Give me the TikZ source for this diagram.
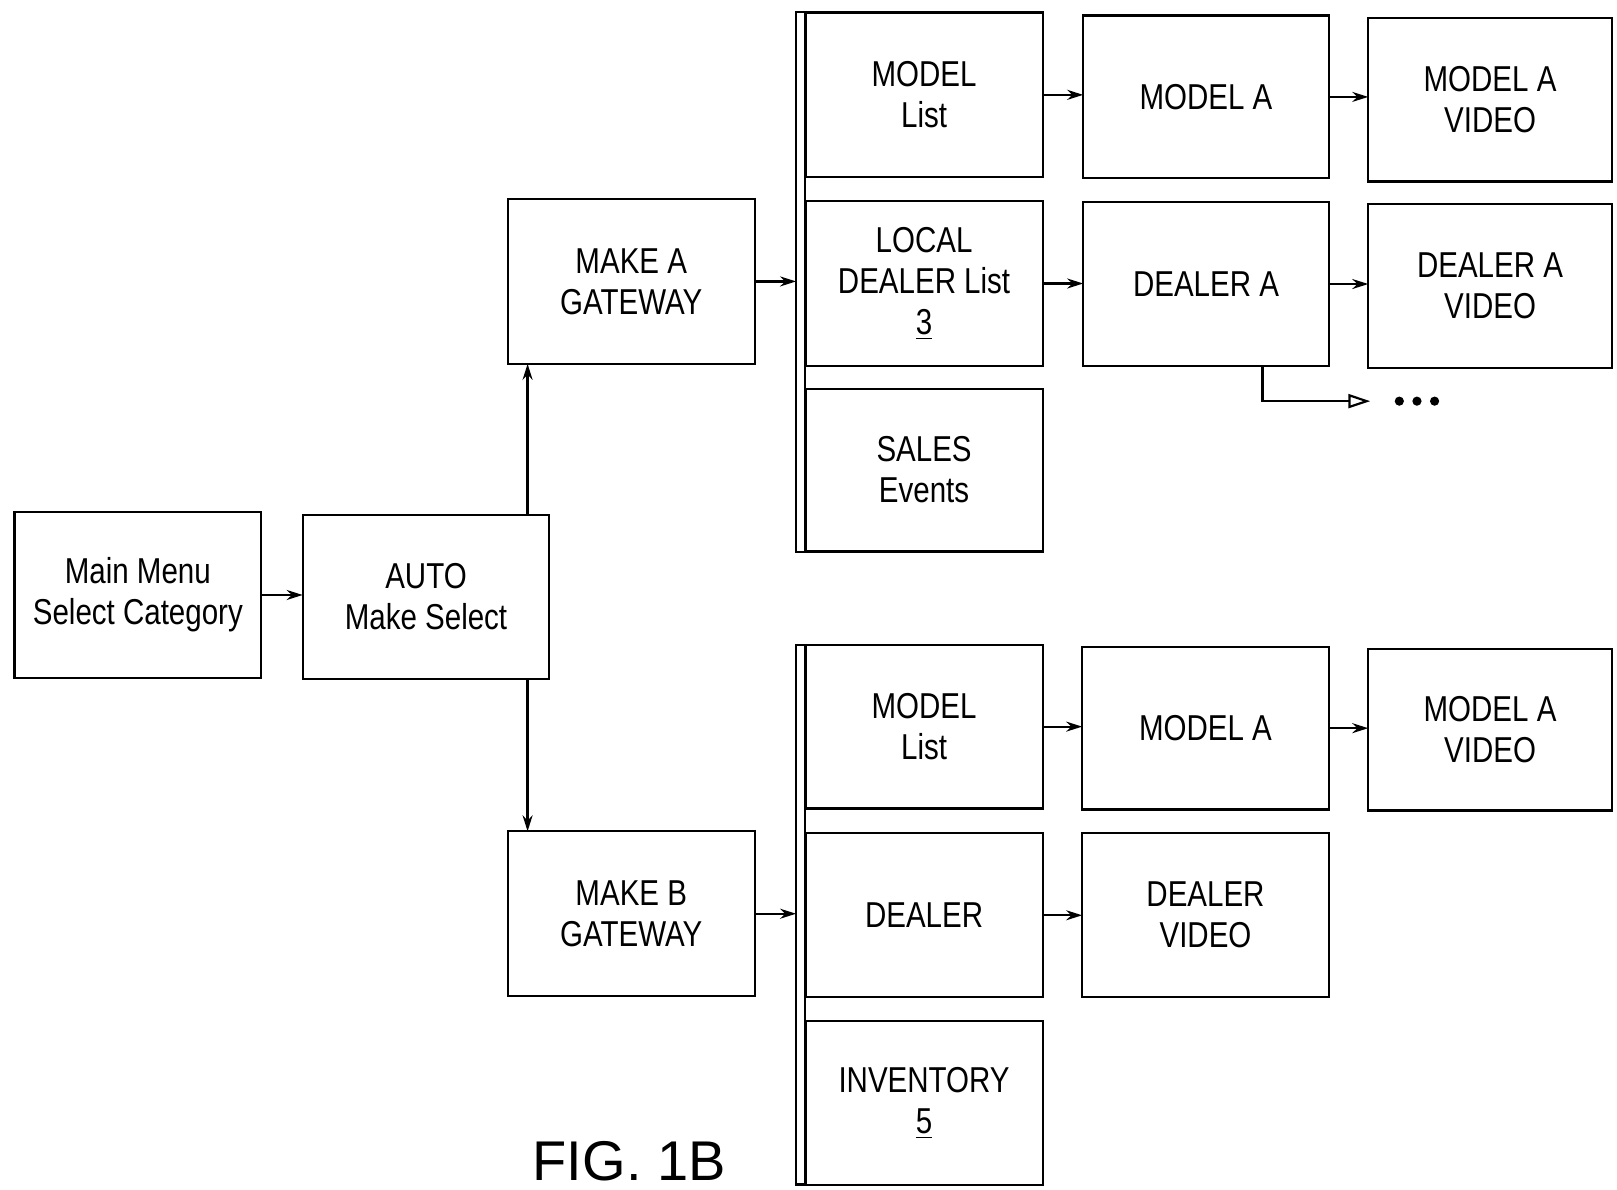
\documentclass[tikz,border=0pt]{standalone}
\usepackage{fontspec}
\setmainfont{Liberation Sans}[FakeStretch=0.82]
\newfontfamily\figfont{Liberation Sans}
\usetikzlibrary{arrows.meta,calc}
\tikzset{
  box/.style={draw, line width=1.1pt, inner sep=0pt, outer sep=0pt, align=center,
    font=\fontsize{18}{20.5}\selectfont},
  wA/.style={minimum width=123.36pt},
  wB/.style={minimum width=122.84pt},
  wC/.style={minimum width=121.80pt},
  wD/.style={minimum width=118.69pt},
  hA/.style={minimum height=82.93pt},
  hB/.style={minimum height=82.41pt},
  hC/.style={minimum height=81.89pt},
  hD/.style={minimum height=81.37pt},
  hE/.style={minimum height=80.85pt},
  bar/.style={draw, line width=1.1pt, inner sep=0pt, outer sep=0pt, minimum width=4.66pt, minimum height=269.8pt},
  arr/.style={line width=1.1pt, -{Stealth[length=8pt,width=5pt]}},
  openarr/.style={line width=1.1pt, -{Triangle[open,length=11pt,width=7pt]}},
  dot/.style={fill=black}
}
\begin{document}
\begin{tikzpicture}[x=0.5183pt,y=-0.5183pt]
\useasboundingbox (0,0) rectangle (1560,1147.1);

% left column
\node[box, wA, hA] (menu) at (133,574) {Main Menu\\Select Category};
\node[box, wA, hC] (auto) at (411,576) {AUTO\\Make Select};
\node[box, wA, hB] (makeA) at (609,271.5) {MAKE A\\GATEWAY};
\node[box, wA, hB] (makeB) at (609,881.5) {MAKE B\\GATEWAY};

% bars
\node[bar] (barA) at (772.5,272) {};
\node[bar] (barB) at (772.5,882.5) {};

% upper group
\node[box, wD, hB] (mlistA) at (891.5,91.5) {MODEL\\List};
\node[box, wD, hB] (ldlist) at (891.5,273.5) {LOCAL\\DEALER List\\\underline{3}};
\node[box, wD, hD] (sales) at (891.5,453.5) {SALES\\Events};
\node[box, wB, hD] (modelA) at (1163.5,93.5) {MODEL A};
\node[box, wC, hC] (modelAvid) at (1437.5,96) {MODEL A\\VIDEO};
\node[box, wB, hC] (dealerA) at (1163.5,274) {DEALER A};
\node[box, wC, hC] (dealerAvid) at (1437.5,276) {DEALER A\\VIDEO};

% lower group
\node[box, wD, hC] (mlistB) at (891.5,701) {MODEL\\List};
\node[box, wD, hC] (dealer) at (891.5,883) {DEALER};
\node[box, wD, hC] (invent) at (891.5,1064) {INVENTORY\\\underline{5}};
\node[box, wA, hD] (modelB) at (1163,702.5) {MODEL A};
\node[box, wC, hE] (modelBvid) at (1437.5,704) {MODEL A\\VIDEO};
\node[box, wA, hC] (dealerVid) at (1163,883) {DEALER\\VIDEO};

% caption
\node[inner sep=0pt, anchor=base, text depth=0pt, font=\figfont\fontsize{28}{30}\selectfont] (fig) at (607,1139) {FIG. 1B};

% connectors
\draw[arr] (menu.east) -- (menu.east -| auto.west);
\coordinate (ua) at ($(makeA.south west)+(19,0)$);
\coordinate (ub) at ($(makeB.north west)+(19,0)$);
\draw[arr] (ua |- auto.north) -- (ua);
\draw[arr] (ub |- auto.south) -- (ub);
\draw[arr] (makeA.east) -- (makeA.east -| barA.west);
\draw[arr] (makeB.east) -- (makeB.east -| barB.west);

\draw[arr] (mlistA.east) -- (mlistA.east -| modelA.west);
\draw[arr] (modelA.east) -- (modelA.east -| modelAvid.west);
\draw[arr] (ldlist.east) -- (ldlist.east -| dealerA.west);
\draw[arr] (dealerA.east) -- (dealerA.east -| dealerAvid.west);

\draw[arr] (mlistB.east) -- (mlistB.east -| modelB.west);
\draw[arr] (modelB.east) -- (modelB.east -| modelBvid.west);
\draw[arr] (dealer.east) -- (dealer.east -| dealerVid.west);

% branch from DEALER A
\coordinate (br) at ($(dealerA.south west)+(173,0)$);
\coordinate (brEnd) at (1322,387);
\draw[openarr] (br) |- (brEnd);
\fill[dot] (1350,387) circle[radius=2.3pt];
\fill[dot] (1367,387) circle[radius=2.3pt];
\fill[dot] (1384,387) circle[radius=2.3pt];
\end{tikzpicture}
\end{document}
